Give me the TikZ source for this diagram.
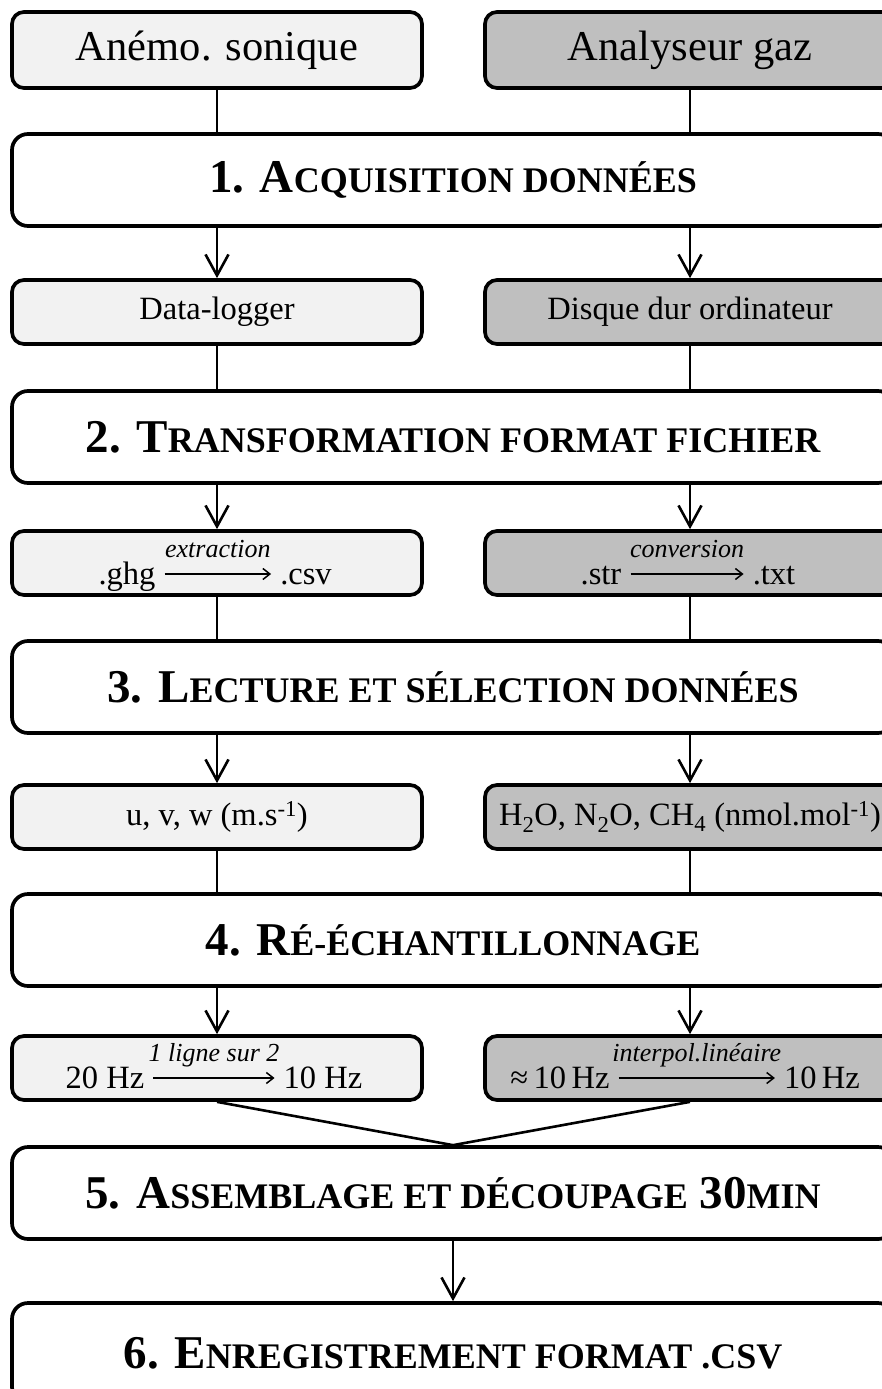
\documentclass[tikz,border=0pt]{standalone}
\usepackage{fontspec}
\setmainfont{Liberation Serif}
\usetikzlibrary{arrows.meta}
\definecolor{lgray}{HTML}{F2F2F2}
\definecolor{dgray}{HTML}{BFBFBF}
\newcommand{\smc}[1]{{\fontsize{36}{42}\selectfont #1}}
\tikzset{
  box/.style={draw=black, line width=3.7pt, rounded corners=12pt, minimum width=410pt, inner sep=0pt, align=center, font=\fontsize{32.5}{38}\selectfont},
  lbox/.style={box, fill=lgray},
  rbox/.style={box, fill=dgray},
  topbox/.style={minimum height=76pt, font=\fontsize{42.5}{48}\selectfont},
  smallbox/.style={minimum height=64pt},
  stepbox/.style={draw=black, line width=3.7pt, rounded corners=16pt, fill=white, minimum width=882pt, minimum height=92pt, inner sep=0pt, font=\bfseries\fontsize{47}{54}\selectfont},
  txt/.style={inner sep=0pt, anchor=base, font=\fontsize{32.5}{38}\selectfont},
  lab/.style={inner sep=0pt, anchor=base, midway, yshift=17pt, font=\itshape\fontsize{26}{30}\selectfont},
  marrow/.style={line width=1.5pt, -{Straight Barb[length=7pt,width=11pt]}},
  link/.style={line width=2.6pt},
  arr/.style={link, -{Straight Barb[length=21pt,width=23pt]}},
}
\begin{document}
\begin{tikzpicture}[x=1pt,y=1pt]
\useasboundingbox (0,0) rectangle (881,-1389);
% top boxes
\node[lbox, topbox] (anemo) at (217,-50) {Anémo. sonique};
\node[rbox, topbox] (analy) at (690,-50) {Analyseur gaz};
% step 1
\node[stepbox] (s1) at (453,-180) {1. A\smc{CQUISITION DONNÉES}};
\node[lbox, smallbox] (dl) at (217,-312) {Data-logger};
\node[rbox, smallbox] (dd) at (690,-312) {Disque dur ordinateur};
% step 2
\node[stepbox] (s2) at (453,-437) {2. T\smc{RANSFORMATION FORMAT FICHIER}};
\node[lbox, smallbox] (ghg) at (217,-563) {};
\node[rbox, smallbox] (str) at (690,-563) {};
\node[txt] (ghgA) at (127,-584) {.ghg};
\node[txt] (ghgB) at (306,-584) {.csv};
\draw[marrow] ([xshift=9pt,yshift=10pt]ghgA.base east) -- ([xshift=-9pt,yshift=10pt]ghgB.base west) node[lab] {extraction};
\node[txt] (strA) at (601,-584) {.str};
\node[txt] (strB) at (774,-584) {.txt};
\draw[marrow] ([xshift=9pt,yshift=10pt]strA.base east) -- ([xshift=-9pt,yshift=10pt]strB.base west) node[lab] {conversion};
% step 3
\node[stepbox] (s3) at (453,-687) {3. L\smc{ECTURE ET SÉLECTION DONNÉES}};
\node[lbox, smallbox] (uvw) at (217,-817) {u, v, w (m.s\textsuperscript{-1})};
\node[rbox, smallbox] (gas) at (690,-817) {H\textsubscript{2}O, N\textsubscript{2}O, CH\textsubscript{4} (nmol.mol\textsuperscript{-1})};
% step 4
\node[stepbox] (s4) at (453,-940) {4. R\smc{É-ÉCHANTILLONNAGE}};
\node[lbox, smallbox] (hzl) at (217,-1068) {};
\node[rbox, smallbox] (hzr) at (690,-1068) {};
\node[txt] (hzlA) at (105,-1088) {20 Hz};
\node[txt] (hzlB) at (323,-1088) {10 Hz};
\draw[marrow] ([xshift=9pt,yshift=10pt]hzlA.base east) -- ([xshift=-9pt,yshift=10pt]hzlB.base west) node[lab] {1 \textit{ligne sur} 2};
\node[txt] (hzrA) at (560,-1088) {≈\,10\,Hz};
\node[txt] (hzrB) at (822,-1088) {10\,Hz};
\draw[marrow] ([xshift=9pt,yshift=10pt]hzrA.base east) -- ([xshift=-9pt,yshift=10pt]hzrB.base west) node[lab] {interpol.linéaire};
% step 5, 6
\node[stepbox] (s5) at (453,-1193) {5. A\smc{SSEMBLAGE ET DÉCOUPAGE} 30\smc{MIN}};
\node[stepbox, minimum height=100pt] (s6) at (453,-1353) {6. E\smc{NREGISTREMENT FORMAT .CSV}};
% connectors
\draw[link] (anemo.south) -- (anemo.south |- s1.north);
\draw[link] (analy.south) -- (analy.south |- s1.north);
\draw[arr] (dl.north |- s1.south) -- (dl.north);
\draw[arr] (dd.north |- s1.south) -- (dd.north);
\draw[link] (dl.south) -- (dl.south |- s2.north);
\draw[link] (dd.south) -- (dd.south |- s2.north);
\draw[arr] (ghg.north |- s2.south) -- (ghg.north);
\draw[arr] (str.north |- s2.south) -- (str.north);
\draw[link] (ghg.south) -- (ghg.south |- s3.north);
\draw[link] (str.south) -- (str.south |- s3.north);
\draw[arr] (uvw.north |- s3.south) -- (uvw.north);
\draw[arr] (gas.north |- s3.south) -- (gas.north);
\draw[link] (uvw.south) -- (uvw.south |- s4.north);
\draw[link] (gas.south) -- (gas.south |- s4.north);
\draw[arr] (hzl.north |- s4.south) -- (hzl.north);
\draw[arr] (hzr.north |- s4.south) -- (hzr.north);
\draw[link] (hzl.south) -- (s5.north);
\draw[link] (hzr.south) -- (s5.north);
\draw[arr] (s5.south) -- (s6.north);
\end{tikzpicture}
\end{document}
